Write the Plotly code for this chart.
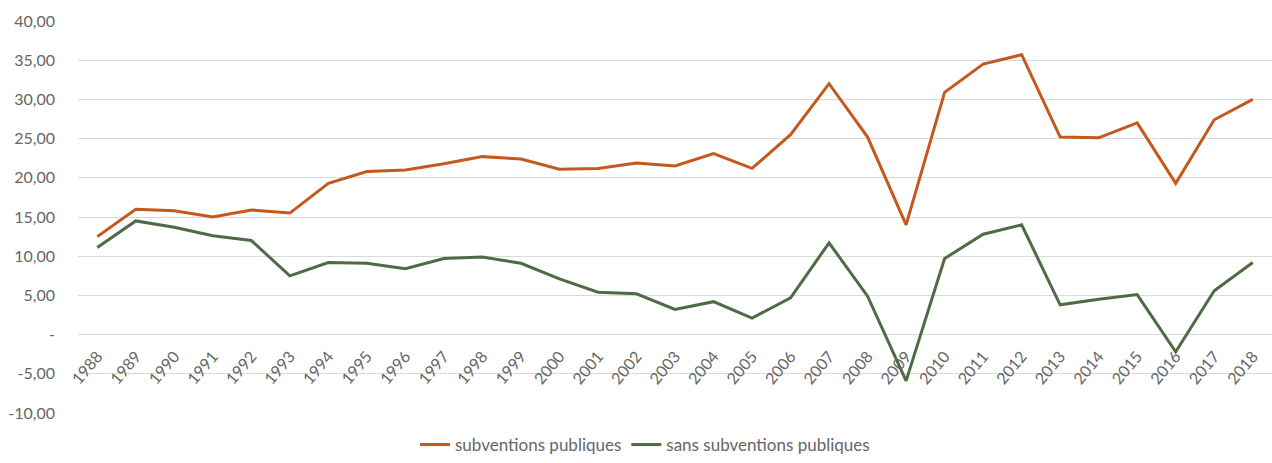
import plotly.graph_objects as go

years = [str(y) for y in range(1988, 2019)]
avec_subventions = [12.5, 16.0, 15.8, 15.0, 15.9, 15.5, 19.3, 20.8, 21.0, 21.8, 22.7, 22.4,
                    21.1, 21.2, 21.9, 21.5, 23.1, 21.2, 25.5, 32.0, 25.2, 14.0, 30.9, 34.5,
                    35.7, 25.2, 25.1, 27.0, 19.3, 27.4, 30.0]
sans_subventions = [11.1, 14.5, 13.7, 12.6, 12.0, 7.5, 9.2, 9.1, 8.4, 9.7, 9.9, 9.1,
                    7.1, 5.4, 5.2, 3.2, 4.2, 2.1, 4.7, 11.7, 4.9, -5.9, 9.7, 12.8,
                    14.0, 3.8, 4.5, 5.1, -2.2, 5.6, 9.2]
y_ticks = [-10, -5, 0, 5, 10, 15, 20, 25, 30, 35, 40]
y_ticklabels = ["-10,00", "-5,00", "-", "5,00", "10,00", "15,00", "20,00", "25,00",
                "30,00", "35,00", "40,00"]

H = 463
T, B = 21, 0
plot_h = H - T - B
y_bottom_px = 413   # pixel of -10
zero_px = 335       # pixel of 0

fig = go.Figure()
fig.add_trace(go.Scatter(x=years, y=avec_subventions, mode="lines",
                         name="subventions publiques",
                         line=dict(color="#C5581C", width=3)))
fig.add_trace(go.Scatter(x=years, y=sans_subventions, mode="lines",
                         name="sans subventions publiques",
                         line=dict(color="#4F6B45", width=3)))

fig.update_layout(
    width=1272, height=H,
    margin=dict(l=78, r=0, t=T, b=B, autoexpand=False),
    paper_bgcolor="white", plot_bgcolor="white",
    font=dict(family="Lato, Open Sans, sans-serif", size=16, color="#666666"),
    showlegend=True,
    legend=dict(orientation="h",
                x=(645 - 78) / 1194, xanchor="center",
                y=0.0, yanchor="bottom",
                font=dict(size=17, color="#666666"),
                traceorder="normal", bgcolor="rgba(0,0,0,0)"),
    xaxis=dict(type="category", range=[-0.5, 30.5], showgrid=False,
               showline=False, zeroline=False, ticks="", tickangle=-50,
               anchor="free", position=(H - B - zero_px) / plot_h,
               automargin=False, ticklabelstandoff=8,
               tickfont=dict(size=16, color="#666666")),
    yaxis=dict(range=[-10, 40], tickvals=y_ticks, ticktext=y_ticklabels,
               domain=[(H - B - y_bottom_px) / plot_h, 1],
               automargin=False,
               showgrid=True, gridcolor="#DADADA", gridwidth=1,
               zeroline=True, zerolinecolor="#DADADA", zerolinewidth=1,
               showline=False, ticks="", ticklabelstandoff=22,
               tickfont=dict(size=16, color="#666666")),
)

fig.write_html("out.html")
